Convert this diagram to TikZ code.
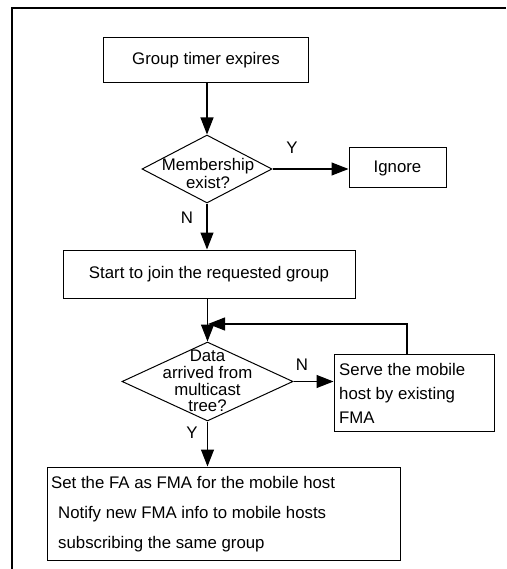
\documentclass[tikz,border=0pt]{standalone}
\usepackage{fontspec}
\setmainfont{Liberation Sans}
\usetikzlibrary{shapes.geometric,arrows.meta}
\newcommand\myfs{\fontsize{16.8pt}{18pt}\selectfont}
\begin{document}
\begin{tikzpicture}[x=1pt,y=-1pt,
  box/.style={draw, line width=1pt, inner sep=0pt, font=\myfs},
  dia/.style={diamond, draw, line width=1pt, inner sep=0pt},
  lbl/.style={inner sep=0pt, font=\myfs},
  arr/.style={-{Triangle[length=17pt,width=13pt]}, line width=1.1pt}]
\useasboundingbox (0,0) rectangle (506,569);
\draw[line width=2.2pt] (12,569) -- (12,8) -- (506,8);

\node[box, minimum width=205pt, minimum height=45pt] (b1) at (206,60.5) {Group timer expires};
\node[dia, minimum width=130pt, minimum height=68pt] (d1) at (207,169) {};
\node[lbl, align=center] (d1t) at (208,173) {Membership\\exist?};
\node[box, minimum width=97pt, minimum height=40pt] (ig) at (397.5,168) {Ignore};
\node[box, minimum width=292pt, minimum height=48pt] (b2) at (209,274) {Start to join the requested group};
\node[dia, minimum width=171pt, minimum height=79pt] (d2) at (207.5,381.5) {};
\node[lbl, align=center, font=\fontsize{16.8pt}{16.8pt}\selectfont] (d2t) at (207.5,381) {Data\\arrived from\\multicast\\tree?};
\node[box, minimum width=160pt, minimum height=77pt] (sv) at (414,392.5) {};
\node[lbl, align=left, anchor=west, font=\fontsize{16.8pt}{24pt}\selectfont] (svt) at (339,393) {Serve the mobile\\host by existing\\FMA};
\node[box, minimum width=353pt, minimum height=93pt] (b3) at (223.5,513.5) {};
\node[lbl, anchor=base west] (t1) at (51,488) {Set the FA as FMA for the mobile host};
\node[lbl, anchor=base west] (t2) at (58,518) {Notify new FMA info to mobile hosts};
\node[lbl, anchor=base west] (t3) at (58,548) {subscribing the same group};

\node[lbl] (ly1) at (292,148) {Y};
\node[lbl] (ln1) at (187,218) {N};
\node[lbl] (ln2) at (302,365) {N};
\node[lbl] (ly2) at (192,433) {Y};

\draw[arr] (b1.south -| d1.north) -- (d1.north);
\draw[arr] (d1.east) -- (ig.west |- d1.east);
\draw[arr] (d1.south) -- (b2.north -| d1.south);
\draw[arr] (b2.south -| d2.north) -- (d2.north);
\draw[arr] (d2.east) -- (sv.west |- d2.east);
\draw[arr] (d2.south) -- (b3.north -| d2.south);
\coordinate (j) at (208,324);
\draw[arr] ([xshift=-7pt]sv.north) |- (j);
\end{tikzpicture}
\end{document}
